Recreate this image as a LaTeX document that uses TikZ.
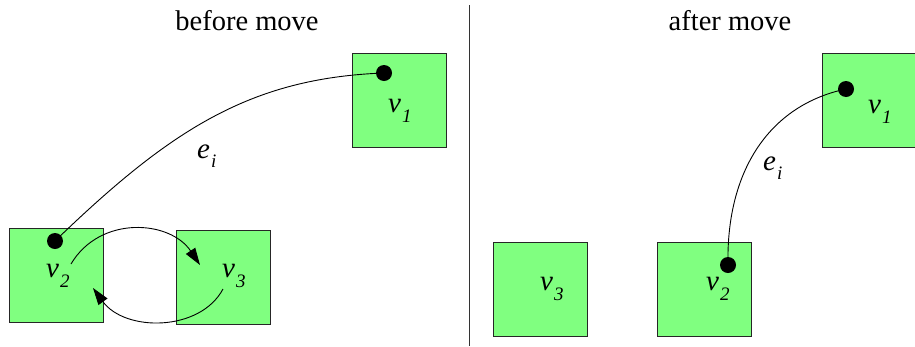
\documentclass[tikz,border=0pt]{standalone}
\usepackage{fontspec}
\setmainfont{Liberation Serif}
\usetikzlibrary{arrows.meta}
\definecolor{boxgreen}{HTML}{80FF80}
\newcommand{\sublab}[3]{\textit{#1}\kern1pt\raisebox{-#3pt}{\fontsize{19}{19}\selectfont\textit{#2}}}
\begin{document}
\begin{tikzpicture}[x=1pt,y=-1pt,
  vbox/.style={draw=black!85, fill=boxgreen, line width=1pt, minimum width=94pt, minimum height=94pt, inner sep=0pt, outer sep=0pt},
  vdot/.style={circle, fill=black, minimum size=16pt, inner sep=0pt},
  lab/.style={anchor=base west, inner sep=0pt, font=\fontsize{29}{29}\selectfont},
  ttl/.style={anchor=base, inner sep=0pt, font=\fontsize{28.5}{28.5}\selectfont},
  link/.style={line width=0.9pt},
  arr/.style={line width=0.9pt, -{Triangle[length=17pt,width=11pt]}}]
\useasboundingbox (0,0) rectangle (915,346);

% titles
\node[ttl] (tb) at (247,30) {before move};
\node[ttl] (ta) at (730,30) {after move};
\draw[line width=1.2pt, black!80] (469.5,5) -- (469.5,346);

% before move
\node[vbox] (b1) at (399.5,100) {};
\node[vbox] (b2) at (56,275) {};
\node[vbox] (b3) at (223,277) {};
\node[lab] (lb1) at (388,112) {\sublab{v}{1}{10}};
\node[lab] (lb2) at (46,277) {\sublab{v}{2}{10}};
\node[lab] (lb3) at (222,277) {\sublab{v}{3}{10}};
\node[vdot] (db1) at (384,73) {};
\node[vdot] (db2) at (55,241) {};
\draw[link] (db1.center) .. controls (250,78) and (170,130) .. (db2.center);
\node[lab] (le1) at (197,158) {\sublab{e}{i}{9}};

\coordinate (a1s) at (71,264);
\coordinate (a1e) at (200,265);
\coordinate (a2s) at (223,289);
\coordinate (a2e) at (93,288);
\draw[arr] (a1s) .. controls (100,215) and (170,220) .. (a1e);
\draw[arr] (a2s) .. controls (200,332) and (125,332) .. (a2e);

% after move
\node[vbox] (r3) at (540,289) {};
\node[vbox] (r2) at (704.5,289) {};
\node[vbox] (r1) at (869,100) {};
\node[lab] (lr3) at (540,290) {\sublab{v}{3}{10}};
\node[lab] (lr2) at (706,290) {\sublab{v}{2}{10}};
\node[lab] (lr1) at (868,113) {\sublab{v}{1}{10}};
\node[vdot] (dr2) at (728,265) {};
\node[vdot] (dr1) at (846,89) {};
\draw[link] (dr2.center) .. controls (726,170) and (770,105) .. (dr1.center);
\node[lab] (le2) at (763,170) {\sublab{e}{i}{9}};
\end{tikzpicture}
\end{document}
